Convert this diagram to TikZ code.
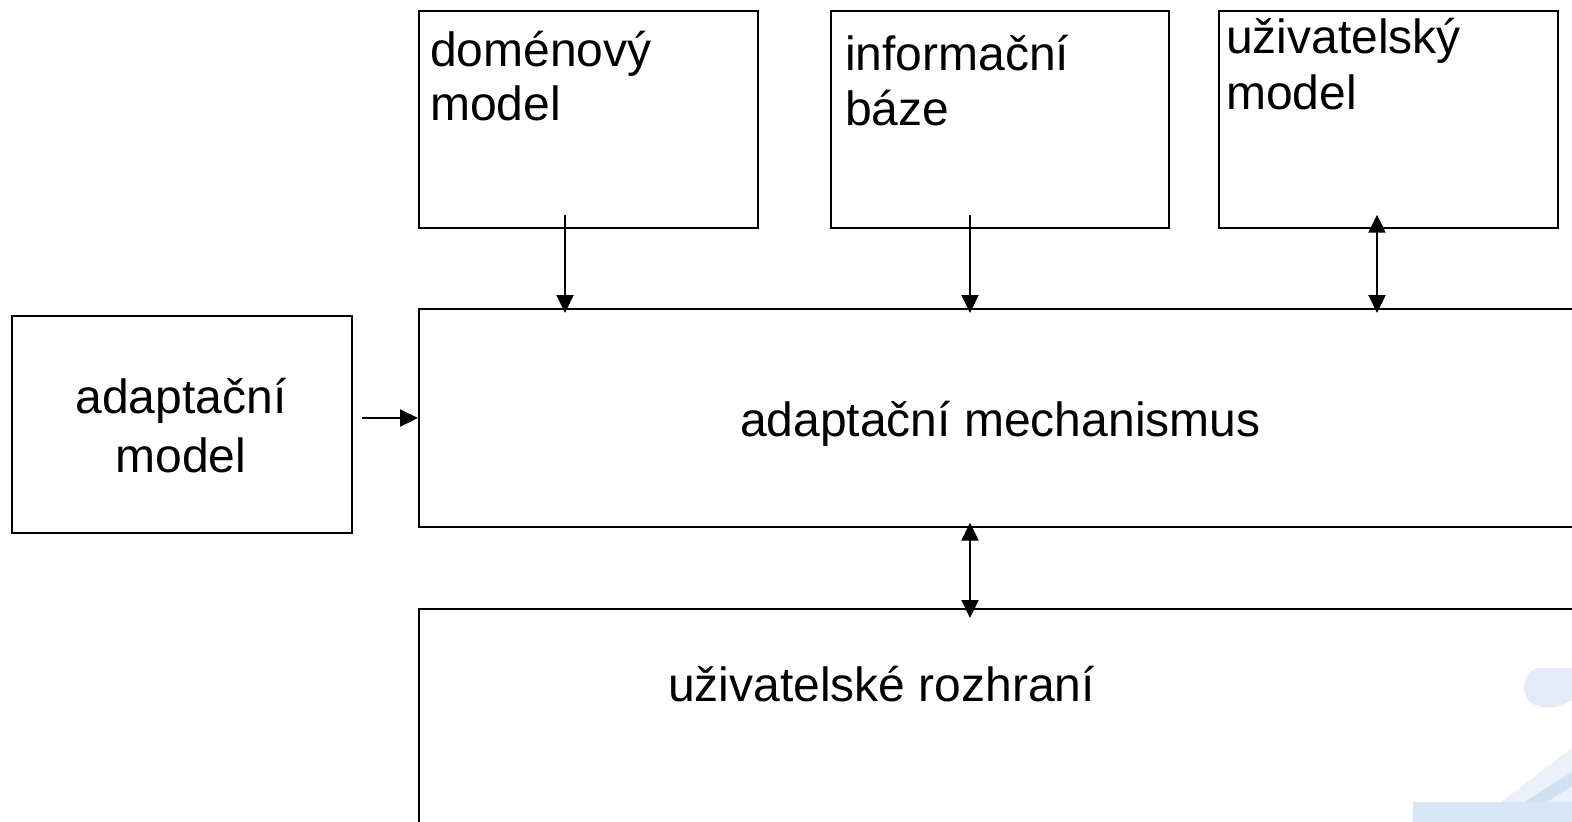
\documentclass[tikz,border=0pt]{standalone}
\usepackage{fontspec}
\setmainfont{Liberation Sans}
\usetikzlibrary{arrows.meta}
\definecolor{decoA}{RGB}{234,241,250}
\definecolor{decoB}{RGB}{214,230,247}
\definecolor{decoC}{RGB}{208,224,243}
\definecolor{decoD}{RGB}{226,235,247}
\tikzset{
  box/.style={draw=black, line width=1.7pt, rectangle, inner sep=0pt, anchor=north west},
  lbl/.style={inner sep=0pt, font=\fontsize{48}{55}\selectfont},
  arr/.style={line width=2.2pt, -{Triangle[length=18pt,width=17pt]}},
  darr/.style={line width=2.2pt, {Triangle[length=18pt,width=17pt]}-{Triangle[length=18pt,width=17pt]}}
}
\begin{document}
\begin{tikzpicture}[x=1pt,y=-1pt]
\useasboundingbox (0,0) rectangle (1572,822);
\clip (0,0) rectangle (1572,822);
% soft blue background ornament, lower right
\fill[decoA] (1475,822) -- (1572,748) -- (1572,822) -- cycle;
\fill[decoC] (1492,822) -- (1572,772) -- (1572,786) -- (1515,822) -- cycle;
\fill[decoB] (1413,802) rectangle (1572,822);
\fill[decoD] (1572,668) -- (1540,668) .. controls (1522,669) and (1520,692) .. (1530,702)
  .. controls (1545,712) and (1562,706) .. (1572,700) -- cycle;
% boxes
\node[box, minimum width=339pt, minimum height=217pt] (dom) at (418,10) {};
\node[box, minimum width=338pt, minimum height=217pt] (inf) at (830,10) {};
\node[box, minimum width=339pt, minimum height=217pt] (usr) at (1218,10) {};
\node[box, minimum width=340pt, minimum height=217pt] (ada) at (11,315) {};
\node[box, minimum width=1200pt, minimum height=218pt] (mech) at (418,308) {};
\node[box, minimum width=1200pt, minimum height=260pt] (ui) at (418,608) {};
% labels
\node[lbl, anchor=base west] (domA) at (430,66) {doménový};
\node[lbl, anchor=base west] (domB) at (430,120) {model};
\node[lbl, anchor=base west] (infA) at (845,70) {informační};
\node[lbl, anchor=base west] (infB) at (845,125) {báze};
\node[lbl, anchor=base west] (usrA) at (1226,53) {uživatelský};
\node[lbl, anchor=base west] (usrB) at (1226,109) {model};
\node[lbl, anchor=base] (adaA) at (181,413) {adaptační};
\node[lbl, anchor=base] (adaB) at (181,472) {model};
\node[lbl, anchor=base west] (mechT) at (740,436) {adaptační mechanismus};
\node[lbl, anchor=base west] (uiT) at (668,701) {uživatelské rozhraní};
% connectors
\coordinate (s1) at ([xshift=147pt,yshift=14pt]dom.south west);
\coordinate (s2) at ([xshift=140pt,yshift=14pt]inf.south west);
\coordinate (s3) at ([xshift=159pt,yshift=14pt]usr.south west);
\coordinate (s4) at ([xshift=552pt,yshift=5pt]mech.south west);
\coordinate (s5) at ([xshift=9pt]ada.east |- 0,418);
\draw[arr, shorten >=-5pt] (s1) -- (s1 |- mech.north);
\draw[arr, shorten >=-5pt] (s2) -- (s2 |- mech.north);
\draw[darr, shorten >=-5pt] (s3) -- (s3 |- mech.north);
\draw[darr, shorten >=-10pt] (s4) -- (s4 |- ui.north);
\draw[arr] (s5) -- (s5 -| mech.west);
\end{tikzpicture}
\end{document}
